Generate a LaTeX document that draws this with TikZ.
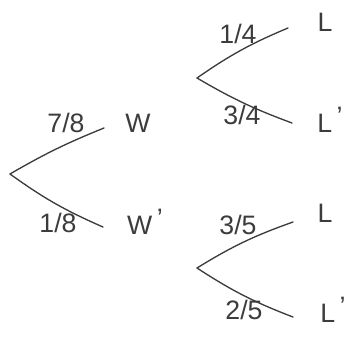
\documentclass[tikz,border=0pt]{standalone}
\usepackage{fontspec}
\setmainfont{Liberation Sans}
\usepackage{tikz}
\usetikzlibrary{positioning}
\definecolor{pencil}{RGB}{60,60,60}
\newcommand{\tick}{\,\raisebox{0.25em}{'}}

\begin{document}
\begin{tikzpicture}[x=0.75pt,y=-0.75pt,
          branch/.style={draw=pencil,line width=1pt,line cap=round},
          prob/.style={font=\fontsize{20}{22}\selectfont,text=pencil,inner sep=0pt},
          outcome/.style={font=\fontsize{20}{22}\selectfont,text=pencil,inner sep=0pt}]
        \useasboundingbox (0,0) rectangle (352,339);
        % first stage: W or W'
        \coordinate (root) at (10,174);
        \coordinate (wend) at (104,128);
        \coordinate (wpend) at (103,227);
        \draw[branch] (root) to[bend left=4] (wend);
        \draw[branch] (root) to[bend right=6] (wpend);
        \node[prob] (pw) at (66,123) {7/8};
        \node[prob] (pwp) at (58,223) {1/8};
        \node[outcome] (w) at (138,123) {W};
        \node[outcome] (wp) at (145,222) {W\tick};
        % second stage after W
        \coordinate (topfork) at (197,78);
        \coordinate (tlend) at (288,28);
        \coordinate (tlpend) at (292,123);
        \draw[branch] (topfork) to[bend left=6] (tlend);
        \draw[branch] (topfork) to[bend right=5] (tlpend);
        \node[prob] (ptl) at (238,34) {1/4};
        \node[prob] (ptlp) at (242,115) {3/4};
        \node[outcome] (tl) at (325,22) {L};
        \node[outcome] (tlp) at (330,120) {L\tick};
        % second stage after W'
        \coordinate (botfork) at (197,268);
        \coordinate (blend) at (293,222);
        \coordinate (blpend) at (293,317);
        \draw[branch] (botfork) to[bend left=6] (blend);
        \draw[branch] (botfork) to[bend right=6] (blpend);
        \node[prob] (pbl) at (238,225) {3/5};
        \node[prob] (pblp) at (244,310) {2/5};
        \node[outcome] (bl) at (325,213) {L};
        \node[outcome] (blp) at (333,310) {L\tick};
      \end{tikzpicture}
\end{document}
